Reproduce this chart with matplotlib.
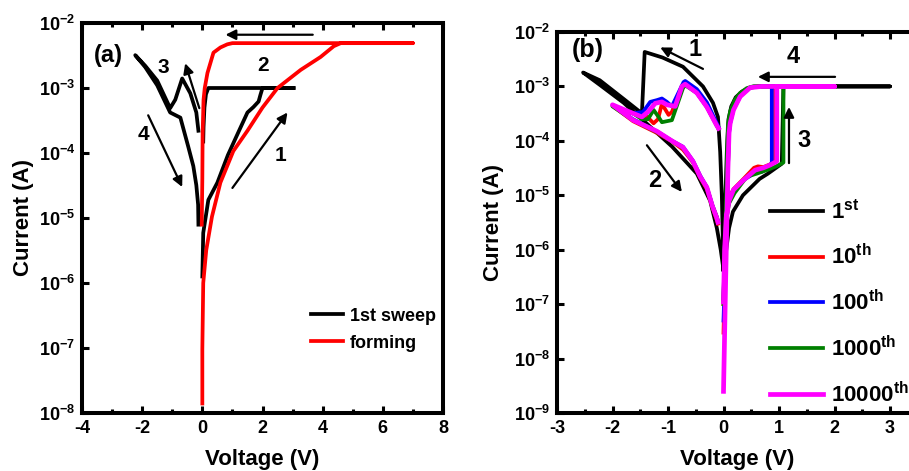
import numpy as np
import matplotlib
matplotlib.use('Agg')
import matplotlib.pyplot as plt
from matplotlib.ticker import FixedLocator, FuncFormatter, MultipleLocator

plt.rcParams.update({
    'font.family': 'Liberation Sans', 'font.weight': 'bold',
    'axes.unicode_minus': False, 'mathtext.fontset': 'custom',
    'mathtext.rm': 'Liberation Sans:bold', 'mathtext.it': 'Liberation Sans:bold',
    'mathtext.bf': 'Liberation Sans:bold', 'mathtext.sf': 'Liberation Sans:bold',
})

# ---------------- panel (a) data ----------------
a_form_V = [0.0, 0.0, 0.03, 0.13, 0.32, 0.6, 1.03, 1.5, 2.0, 2.5, 3.27, 3.93, 4.37, 4.6, 7.0,
            1.0, 0.83, 0.6, 0.37, 0.17, 0.08, 0.04, 0.01, 0.0, -0.02]
a_form_I = [1.4e-8, 9.5e-8, 1.0e-6, 3.2e-6, 1.05e-5, 3.5e-5, 1.07e-4, 2.2e-4, 5.0e-4, 1.0e-3, 1.9e-3, 3.0e-3, 4.4e-3, 4.9e-3, 4.9e-3,
            4.9e-3, 4.7e-3, 4.2e-3, 3.5e-3, 1.7e-3, 1.0e-3, 6.6e-4, 2.0e-4, 4.0e-5, 7.9e-6]

a_sw1_V = [0.0, 0.03, 0.2, 0.5, 0.85, 1.2, 1.5, 1.7, 1.87, 1.93, 2.0, 3.03]
a_sw1_I = [1.26e-6, 5.9e-6, 1.9e-5, 3.5e-5, 9.3e-5, 2.1e-4, 4.2e-4, 5.1e-4, 6.2e-4, 7.8e-4, 1.0e-3, 1.0e-3]
a_sw2_V = [3.03, 0.2, 0.12, 0.07, 0.04, 0.03]
a_sw2_I = [1.0e-3, 1.0e-3, 8.0e-4, 5.0e-4, 2.5e-4, 1.5e-4]
a_sw3_V = [-0.13, -0.2, -0.4, -0.67, -0.9, -1.07, -1.5, -1.9, -2.23]
a_sw3_I = [2.2e-4, 4.2e-4, 8.3e-4, 1.4e-3, 6.6e-4, 4.9e-4, 1.3e-3, 2.2e-3, 3.2e-3]
a_sw4_V = [-2.23, -1.9, -1.5, -1.07, -0.73, -0.47, -0.3, -0.2, -0.14, -0.13]
a_sw4_I = [3.2e-3, 2.1e-3, 1.1e-3, 4.2e-4, 3.5e-4, 1.26e-4, 6.3e-5, 3.2e-5, 1.6e-5, 7.9e-6]

# ---------------- panel (b) data ----------------
b1_br1_V = [0.0, -0.03, -0.06, -0.1, -0.19, -0.37, -0.73, -1.1, -1.42, -1.47, -1.8, -2.23, -2.53]
b1_br1_I = [4.3e-7, 1.0e-5, 6.3e-5, 2.75e-4, 5.0e-4, 1.0e-3, 2.3e-3, 3.4e-3, 4.3e-3, 3.2e-4, 5.9e-4, 1.3e-3, 1.8e-3]
b1_br2_V = [-2.53, -2.23, -1.8, -1.47, -0.93, -0.48, -0.24, -0.12, -0.05, 0.0]
b1_br2_I = [1.8e-3, 1.07e-3, 5.0e-4, 2.5e-4, 7.9e-5, 2.5e-5, 7.9e-6, 2.5e-6, 1.0e-6, 4.3e-7]
b1_br3_V = [0.0, 0.05, 0.1, 0.17, 0.35, 0.65, 0.8, 1.05, 1.08, 3.0]
b1_br3_I = [4.3e-7, 1.0e-6, 2.5e-6, 5.0e-6, 1.0e-5, 2.0e-5, 2.5e-5, 3.8e-5, 1.0e-3, 1.0e-3]
b1_br4_V = [3.0, 0.55, 0.45, 0.33, 0.22, 0.14, 0.09, 0.06, 0.03, 0.01]
b1_br4_I = [1.0e-3, 1.0e-3, 9.3e-4, 8.0e-4, 6.3e-4, 4.3e-4, 2.5e-4, 6.3e-5, 6.3e-6, 6.3e-7]

b10_br1_V = [-0.09, -0.12, -0.3, -0.48, -0.69, -0.75, -0.93, -0.99, -1.11, -1.18, -1.26, -1.38, -1.47, -1.63, -2.0]
b10_br1_I = [1.7e-4, 1.9e-4, 4.2e-4, 7.6e-4, 1.1e-3, 1.0e-3, 3.4e-4, 3.0e-4, 4.8e-4, 2.5e-4, 2.1e-4, 2.8e-4, 2.6e-4, 3.2e-4, 4.4e-4]
b10_br2_V = [-2.0, -1.63, -1.2, -0.93, -0.73, -0.55, -0.42, -0.3, -0.2, -0.12, -0.1]
b10_br2_I = [4.2e-4, 2.3e-4, 1.4e-4, 9.8e-5, 6.9e-5, 4.0e-5, 2.1e-5, 1.3e-5, 6.0e-6, 3.5e-6, 3.0e-6]
b10_br3_V = [0.0, 0.02, 0.05, 0.1, 0.18, 0.36, 0.55, 0.62, 0.72, 0.84, 0.93, 0.93, 2.0]
b10_br3_I = [1.0e-7, 1.0e-6, 4.0e-6, 8.9e-6, 1.3e-5, 2.0e-5, 3.2e-5, 3.4e-5, 3.3e-5, 3.7e-5, 4.2e-5, 1.0e-3, 1.0e-3]
b10_br4_V = [2.0, 0.62, 0.45, 0.3, 0.18, 0.12, 0.1, 0.08, 0.06, 0.03, 0.0]
b10_br4_I = [1.0e-3, 1.0e-3, 9.3e-4, 6.6e-4, 3.8e-4, 2.2e-4, 1.5e-4, 3.2e-5, 3.2e-6, 5.0e-7, 3.0e-8]

b100_br1_V = [-0.09, -0.12, -0.3, -0.48, -0.69, -0.72, -0.93, -1.02, -1.11, -1.2, -1.32, -1.45, -1.63, -2.0]
b100_br1_I = [1.8e-4, 2.1e-4, 5.1e-4, 8.9e-4, 1.26e-3, 1.2e-3, 4.3e-4, 5.2e-4, 6.0e-4, 5.6e-4, 5.2e-4, 3.4e-4, 3.2e-4, 4.5e-4]
b100_br2_V = [-2.0, -1.63, -1.2, -0.93, -0.73, -0.55, -0.42, -0.3, -0.2, -0.12, -0.1]
b100_br2_I = [4.4e-4, 2.5e-4, 1.5e-4, 1.0e-4, 7.8e-5, 4.3e-5, 2.3e-5, 1.4e-5, 6.5e-6, 3.9e-6, 3.3e-6]
b100_br3_V = [0.0, 0.02, 0.05, 0.1, 0.18, 0.36, 0.57, 0.69, 0.78, 0.87, 0.87, 2.0]
b100_br3_I = [1.2e-7, 1.0e-6, 4.0e-6, 7.9e-6, 1.26e-5, 1.9e-5, 2.6e-5, 2.7e-5, 3.2e-5, 3.9e-5, 1.0e-3, 1.0e-3]
b100_br4_V = [2.0, 0.66, 0.47, 0.3, 0.18, 0.12, 0.1, 0.08, 0.06, 0.03, 0.0]
b100_br4_I = [1.0e-3, 1.0e-3, 9.5e-4, 6.6e-4, 3.8e-4, 2.1e-4, 1.4e-4, 3.2e-5, 3.2e-6, 5.0e-7, 5.0e-8]

b1000_br1_V = [-0.09, -0.12, -0.3, -0.48, -0.69, -0.73, -0.93, -1.11, -1.17, -1.26, -1.36, -1.47, -1.63, -2.0]
b1000_br1_I = [1.66e-4, 1.9e-4, 4.2e-4, 7.6e-4, 1.05e-3, 9.3e-4, 2.4e-4, 2.2e-4, 2.75e-4, 3.7e-4, 2.5e-4, 2.5e-4, 3.2e-4, 4.3e-4]
b1000_br2_V = [-2.0, -1.63, -1.2, -0.93, -0.73, -0.55, -0.42, -0.3, -0.2, -0.12, -0.1]
b1000_br2_I = [4.3e-4, 2.4e-4, 1.45e-4, 1.0e-4, 7.4e-5, 4.1e-5, 2.2e-5, 1.4e-5, 6.5e-6, 4.0e-6, 3.4e-6]
b1000_br3_V = [0.0, 0.02, 0.05, 0.1, 0.2, 0.42, 0.6, 0.78, 0.95, 1.08, 1.08, 2.0]
b1000_br3_I = [1.26e-7, 1.0e-6, 3.5e-6, 7.1e-6, 1.1e-5, 2.2e-5, 2.5e-5, 2.9e-5, 3.4e-5, 4.0e-5, 1.0e-3, 1.0e-3]
b1000_br4_V = [2.0, 0.53, 0.42, 0.3, 0.2, 0.12, 0.08, 0.07, 0.05, 0.02, 0.0]
b1000_br4_I = [1.0e-3, 1.0e-3, 9.3e-4, 7.6e-4, 5.6e-4, 3.5e-4, 2.0e-4, 1.0e-4, 1.0e-5, 1.0e-6, 1.0e-7]

b10000_br1_V = [-0.09, -0.12, -0.3, -0.48, -0.69, -0.75, -0.87, -1.02, -1.11, -1.23, -1.35, -1.47, -1.63, -2.0]
b10000_br1_I = [1.7e-4, 1.9e-4, 4.2e-4, 7.6e-4, 1.1e-3, 1.0e-3, 4.3e-4, 4.6e-4, 5.2e-4, 4.9e-4, 3.5e-4, 2.75e-4, 3.2e-4, 4.6e-4]
b10000_br2_V = [-2.0, -1.63, -1.2, -0.93, -0.73, -0.55, -0.42, -0.3, -0.2, -0.12, -0.1]
b10000_br2_I = [4.3e-4, 2.4e-4, 1.5e-4, 1.0e-4, 7.6e-5, 4.2e-5, 2.2e-5, 1.4e-5, 6.3e-6, 3.8e-6, 3.2e-6]
b10000_br3_V = [0.0, 0.02, 0.05, 0.1, 0.18, 0.36, 0.57, 0.72, 0.84, 0.96, 0.96, 2.0]
b10000_br3_I = [1.1e-7, 1.0e-6, 4.0e-6, 7.9e-6, 1.26e-5, 1.9e-5, 2.9e-5, 3.2e-5, 3.6e-5, 4.2e-5, 1.0e-3, 1.0e-3]
b10000_br4_V = [2.0, 0.69, 0.48, 0.3, 0.18, 0.12, 0.1, 0.08, 0.06, 0.04, 0.0]
b10000_br4_I = [1.0e-3, 1.0e-3, 9.5e-4, 6.5e-4, 3.7e-4, 2.1e-4, 1.4e-4, 3.2e-5, 3.2e-6, 3.2e-7, 2.5e-9]

a_labels = ['1st sweep', 'forming']
b_labels = ['1$^{st}$', '10$^{th}$', '100$^{th}$', '1000$^{th}$', '10000$^{th}$']
b_colors = ['black', '#ff0000', '#0000ff', '#008000', '#ff00ff']


def join(*segs):
    out = []
    for i, s in enumerate(segs):
        if i:
            out.append(np.nan)
        out.extend(s)
    return np.array(out, dtype=float)


fig = plt.figure(figsize=(9.09, 4.71), dpi=100)
axa = fig.add_axes([82 / 909, 1 - 413 / 471, 361 / 909, 390 / 471])
axb = fig.add_axes([557 / 909, 1 - 413 / 471, 360.75 / 909, 381 / 471])


def style(ax, xmin, xmax, ymin_exp, ymax_exp, xmajor, xminor):
    ax.set_yscale('log')
    ax.set_xlim(xmin, xmax)
    ax.set_ylim(10.0 ** ymin_exp, 10.0 ** ymax_exp)
    ax.xaxis.set_major_locator(MultipleLocator(xmajor))
    ax.xaxis.set_minor_locator(MultipleLocator(xminor))
    ax.xaxis.set_major_formatter(FuncFormatter(lambda v, p: '%d' % round(v)))
    ax.yaxis.set_major_locator(FixedLocator([10.0 ** e for e in range(ymin_exp, ymax_exp + 1)]))
    ax.yaxis.set_minor_locator(FixedLocator([]))
    ax.yaxis.set_major_formatter(FuncFormatter(lambda y, p: r'$10^{%d}$' % round(np.log10(y))))
    for s in ax.spines.values():
        s.set_linewidth(2.9)
    ax.tick_params(which='both', direction='in', top=True, right=False, width=2.2,
                   labelsize=13, pad=5)
    ax.tick_params(which='major', length=5)
    ax.tick_params(which='minor', length=3)
    for lab in ax.get_xticklabels() + ax.get_yticklabels():
        lab.set_fontweight('bold')
    ax.set_xlabel('Voltage (V)', fontsize=16, fontweight='bold', va='center')
    ax.set_ylabel('Current (A)', fontsize=16, fontweight='bold', va='center')


style(axa, -4, 8, -8, -2, 2, 1)
style(axb, -3, 3.5, -9, -2, 1, 0.5)
axa.xaxis.set_label_coords(0.5, -0.12)
axa.yaxis.set_label_coords(-0.163, 0.5)
axb.xaxis.set_label_coords(0.5, -0.123)
axb.yaxis.set_label_coords(-0.177, 0.5)

# panel (a) curves
axa.plot(join(a_sw1_V, a_sw2_V, a_sw3_V + a_sw4_V[1:]), join(a_sw1_I, a_sw2_I, a_sw3_I + a_sw4_I[1:]),
         color='black', lw=2.7, solid_joinstyle='round', label=a_labels[0])
axa.plot(a_form_V, a_form_I, color='#ff0000', lw=2.7, solid_joinstyle='round', label=a_labels[1])
axa.legend(loc='upper left', bbox_to_anchor=(0.635, 0.27), frameon=False, fontsize=13,
           handlelength=1.75, handletextpad=0.4, labelspacing=0.55, borderpad=0, borderaxespad=0)

ak = dict(arrowstyle='-|>', color='black', lw=1.6, mutation_scale=15, shrinkA=0, shrinkB=0)
axa.annotate('', xy=(0.77, 6.6e-3), xytext=(3.67, 6.6e-3), arrowprops=ak)
axa.annotate('', xy=(-0.57, 2.4e-3), xytext=(-0.1, 4.9e-4), arrowprops=ak)
axa.annotate('', xy=(-0.67, 3.0e-5), xytext=(-1.8, 3.8e-4), arrowprops=ak)
axa.annotate('', xy=(2.83, 4.2e-4), xytext=(1.0, 2.9e-5), arrowprops=ak)
axa.text(-3.62, 3.2e-3, '(a)', fontsize=17, fontweight='bold', ha='left', va='center')
axa.text(-1.3, 2.1e-3, '3', fontsize=15, fontweight='bold', ha='center', va='center')
axa.text(2.03, 2.2e-3, '2', fontsize=15, fontweight='bold', ha='center', va='center')
axa.text(-1.97, 1.9e-4, '4', fontsize=15, fontweight='bold', ha='center', va='center')
axa.text(2.6, 9.3e-5, '1', fontsize=15, fontweight='bold', ha='center', va='center')

# panel (b) curves
b_sets = [
    (b1_br1_V, b1_br1_I, b1_br2_V, b1_br2_I, b1_br3_V, b1_br3_I, b1_br4_V, b1_br4_I),
    (b10_br1_V, b10_br1_I, b10_br2_V, b10_br2_I, b10_br3_V, b10_br3_I, b10_br4_V, b10_br4_I),
    (b100_br1_V, b100_br1_I, b100_br2_V, b100_br2_I, b100_br3_V, b100_br3_I, b100_br4_V, b100_br4_I),
    (b1000_br1_V, b1000_br1_I, b1000_br2_V, b1000_br2_I, b1000_br3_V, b1000_br3_I, b1000_br4_V, b1000_br4_I),
    (b10000_br1_V, b10000_br1_I, b10000_br2_V, b10000_br2_I, b10000_br3_V, b10000_br3_I, b10000_br4_V, b10000_br4_I),
]
b_widths = [2.7, 2.7, 2.7, 2.7, 3.4]
for (v1, i1, v2, i2, v3, i3, v4, i4), c, w, lab in zip(b_sets, b_colors, b_widths, b_labels):
    axb.plot(join(v1 + v2[1:], v3 + v4[1:]), join(i1 + i2[1:], i3 + i4[1:]),
             color=c, lw=w, solid_joinstyle='round', label=lab)
axb.legend(loc='upper left', bbox_to_anchor=(0.59, 0.56), frameon=False, fontsize=16,
           handlelength=2.4, handletextpad=0.35, labelspacing=0.93, borderpad=0, borderaxespad=0)

axb.annotate('', xy=(-1.14, 5.2e-3), xytext=(-0.37, 2.1e-3), arrowprops=ak)
axb.annotate('', xy=(0.62, 1.5e-3), xytext=(2.01, 1.5e-3), arrowprops=ak)
axb.annotate('', xy=(1.18, 4.2e-4), xytext=(1.18, 3.9e-5), arrowprops=ak)
axb.annotate('', xy=(-0.75, 1.15e-5), xytext=(-1.38, 8.3e-5), arrowprops=ak)
axb.text(-2.73, 4.7e-3, '(b)', fontsize=18, fontweight='bold', ha='left', va='center')
axb.text(-0.51, 4.7e-3, '1', fontsize=17, fontweight='bold', ha='center', va='center')
axb.text(1.25, 3.5e-3, '4', fontsize=17, fontweight='bold', ha='center', va='center')
axb.text(1.45, 1.0e-4, '3', fontsize=17, fontweight='bold', ha='center', va='center')
axb.text(-1.23, 1.9e-5, '2', fontsize=17, fontweight='bold', ha='center', va='center')

fig.savefig('out.png', dpi=100)
